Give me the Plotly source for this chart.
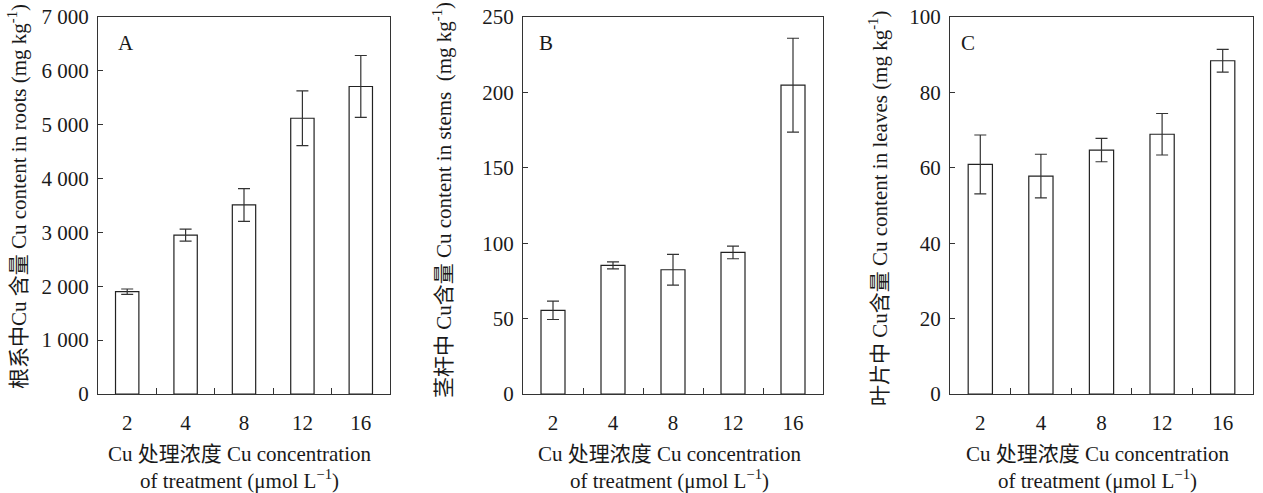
import plotly.graph_objects as go

categories = ["2", "4", "8", "12", "16"]
roots = [1900, 2950, 3510, 5120, 5710]
roots_err = [50, 110, 305, 510, 575]
stems = [55.5, 85.3, 82.4, 93.9, 204.8]
stems_err = [6.1, 2.3, 10.2, 4.2, 31.1]
leaves = [60.9, 57.8, 64.7, 68.9, 88.4]
leaves_err = [7.8, 5.8, 3.1, 5.5, 3.0]

roots_ticks = [0, 1000, 2000, 3000, 4000, 5000, 6000, 7000]
roots_ticktext = ["0", "1 000", "2 000", "3 000", "4 000", "5 000", "6 000", "7 000"]
stems_ticks = [0, 50, 100, 150, 200, 250]
leaves_ticks = [0, 20, 40, 60, 80, 100]

panel_letters = ["A", "B", "C"]
y_titles = [
    "根系中Cu 含量 Cu content in roots (mg kg<sup>-1</sup>)",
    "茎杆中 Cu含量 Cu content in stems  (mg kg<sup>-1</sup>)",
    "叶片中 Cu含量 Cu content in leaves (mg kg<sup>-1</sup>)",
]
x_title = "Cu 处理浓度 Cu concentration<br>of treatment (μmol L<sup>−1</sup>)"

W, H = 1263, 493
FONT = "Liberation Serif, Noto Sans CJK SC"
FS = 21
LINE = "#333333"

px_left = [98, 523, 950]
px_right = [390, 823, 1253]
top_px, bot_px = 17, 394


def fx(px):
    return px / W


def fy(py):
    return 1 - py / H


ydom = [fy(bot_px), fy(top_px)]

fig = go.Figure()
series = [(roots, roots_err), (stems, stems_err), (leaves, leaves_err)]
for i, (vals, errs) in enumerate(series):
    xa = "x" if i == 0 else f"x{i+1}"
    ya = "y" if i == 0 else f"y{i+1}"
    fig.add_trace(go.Bar(
        x=categories, y=vals, xaxis=xa, yaxis=ya,
        width=0.4,
        marker=dict(color="white", line=dict(color="#222222", width=1.2)),
        error_y=dict(type="data", array=errs, visible=True, color="#333333",
                     thickness=1.2, width=6),
        showlegend=False,
    ))

ranges = [[0, 7000], [0, 250], [0, 100]]
tickvals = [roots_ticks, stems_ticks, leaves_ticks]
ticktexts = [roots_ticktext, [str(v) for v in stems_ticks], [str(v) for v in leaves_ticks]]

layout = dict(
    width=W, height=H,
    margin=dict(l=0, r=0, t=0, b=0, autoexpand=False),
    paper_bgcolor="white", plot_bgcolor="white",
    font=dict(family=FONT, size=FS, color="#1a1a1a"),
)
for i in range(3):
    xk = "xaxis" if i == 0 else f"xaxis{i+1}"
    yk = "yaxis" if i == 0 else f"yaxis{i+1}"
    xa_anchor = "y" if i == 0 else f"y{i+1}"
    ya_anchor = "x" if i == 0 else f"x{i+1}"
    layout[xk] = dict(
        domain=[fx(px_left[i]), fx(px_right[i])], anchor=xa_anchor,
        type="category", showline=True, mirror=True, linecolor=LINE, linewidth=1.2,
        ticks="inside", tickson="boundaries", ticklen=6, tickcolor=LINE,
        showgrid=False, zeroline=False, ticklabelstandoff=10,
        tickfont=dict(family=FONT, size=FS),
    )
    layout[yk] = dict(
        domain=ydom, anchor=ya_anchor, range=ranges[i],
        tickvals=tickvals[i], ticktext=ticktexts[i],
        showline=True, mirror=True, linecolor=LINE, linewidth=1.2,
        ticks="inside", ticklen=5, tickcolor=LINE,
        showgrid=False, zeroline=False, ticklabelstandoff=4,
        ticklabeloverflow="allow",
        tickfont=dict(family=FONT, size=FS),
    )
fig.update_layout(**layout)

ytitle_x = [17, 442, 878]
ytitle_y = [197, 200, 208]
xtitle_x = [240, 670, 1098]
letter_x = [126, 546, 968]
for i in range(3):
    fig.add_annotation(x=fx(ytitle_x[i]), y=fy(ytitle_y[i]), xref="paper", yref="paper",
                       text=y_titles[i], textangle=-90, showarrow=False,
                       font=dict(family=FONT, size=FS), xanchor="center", yanchor="middle")
    fig.add_annotation(x=fx(xtitle_x[i]), y=fy(467), xref="paper", yref="paper",
                       text=x_title, showarrow=False, align="center",
                       font=dict(family=FONT, size=FS), xanchor="center", yanchor="middle")
    fig.add_annotation(x=fx(letter_x[i]), y=fy(43), xref="paper", yref="paper",
                       text=panel_letters[i], showarrow=False,
                       font=dict(family=FONT, size=FS), xanchor="center", yanchor="middle")

fig.write_html("out.html", config={"displayModeBar": False},
               post_script="document.body.style.margin='0';")
